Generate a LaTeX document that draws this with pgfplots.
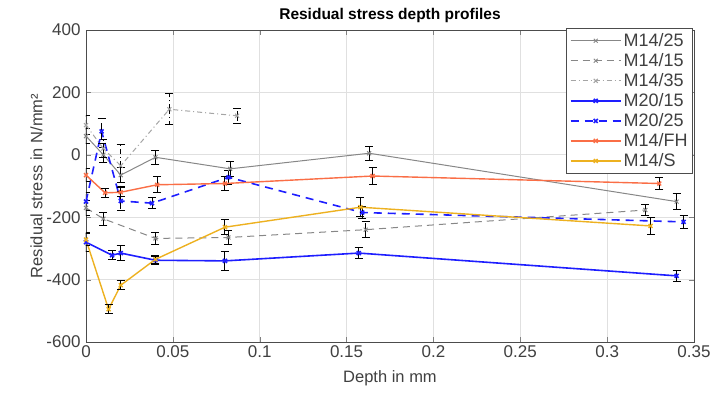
\documentclass[border=0pt]{standalone}
\usepackage{pgfplots}
\pgfplotsset{compat=1.18}
\usepackage{fontspec}
\setmainfont{Liberation Sans}
\definecolor{cgray}{RGB}{135,135,135}
\definecolor{cgrayl}{RGB}{165,165,165}
\definecolor{cblue}{RGB}{30,30,255}
\definecolor{corange}{RGB}{250,110,70}
\definecolor{cyellow}{RGB}{237,177,32}
\begin{document}
\begin{tikzpicture}
\path[use as bounding box] (-86pt,-52pt) rectangle (642pt,342pt);
\begin{axis}[
  at={(0,0)}, anchor=south west,
  scale only axis, width=608pt, height=312pt,
  xmin=0, xmax=0.35, ymin=-600, ymax=400,
  xtick={0,0.05,...,0.35}, ytick={-600,-400,...,400},
  xticklabels={0,0.05,0.1,0.15,0.2,0.25,0.3,0.35},
  /pgf/number format/assume math mode=true,
  ticklabel style={font=\fontsize{17}{17}\selectfont, text=black!75},
  yticklabel style={xshift=-2pt},
  tick align=inside, tick pos=both,
  major tick length=5pt,
  grid=major, grid style={black!12, line width=0.7pt},
  axis line style={black!70, line width=0.9pt},
  title={\bfseries Residual stress depth profiles},
  title style={font=\fontsize{15.5}{16}\selectfont, yshift=-2pt},
  xlabel={Depth in mm}, ylabel={Residual stress in N/mm²},
  label style={font=\fontsize{16.5}{17}\selectfont, text=black!75},
  xlabel style={yshift=-6pt},
  ylabel style={yshift=-3pt},
  legend style={at={(1,1)}, anchor=north east, xshift=-1pt, yshift=2pt,
    font=\fontsize{18}{19}\selectfont, draw=black!70, line width=0.9pt,
    text=black!75, row sep=1.5pt, inner sep=3pt},
  legend cell align=left,
  legend image code/.code={\draw[mark repeat=2,mark phase=2] plot coordinates {(0pt,0pt) (25pt,0pt) (50pt,0pt)};},
  every axis plot/.append style={mark=x, mark size=2.8pt,
    error bars/y dir=both, error bars/y explicit,
    error bars/error bar style={black, line width=1pt},
    error bars/error mark options={black, rotate=90, mark size=4pt, line width=1pt}},
]
\addplot[cgray, line width=1pt, mark options={solid}] coordinates {
 (0,60) +- (0,25) (0.01,0) +- (0,25) (0.02,-65) +- (0,25) (0.04,-8) +- (0,22)
 (0.083,-45) +- (0,25) (0.163,5) +- (0,22) (0.34,-150) +- (0,25)};
\addlegendentry{M14/25}
\addplot[cgray, line width=1pt, dash pattern=on 7pt off 5pt, mark options={solid}] coordinates {
 (0,-170) +- (0,25) (0.01,-205) +- (0,20) (0.04,-268) +- (0,18)
 (0.082,-265) +- (0,22) (0.161,-240) +- (0,25) (0.322,-177) +- (0,18)};
\addlegendentry{M14/15}
\addplot[cgrayl, line width=1pt, dash pattern=on 5pt off 3pt on 1pt off 3pt, mark options={solid}] coordinates {
 (0,95) +- (0,30) (0.01,20) +- (0,30) (0.02,-35) +- (0,67)
 (0.048,146) +- (0,50) (0.087,125) +- (0,24)};
\addlegendentry{M14/35}
\addplot[cblue, line width=1.6pt, mark options={solid}] coordinates {
 (0,-280) +- (0,30) (0.015,-322) +- (0,15) (0.02,-315) +- (0,25) (0.04,-338) +- (0,12)
 (0.08,-340) +- (0,30) (0.157,-315) +- (0,18) (0.34,-388) +- (0,18)};
\addlegendentry{M20/15}
\addplot[cblue, line width=1.6pt, dash pattern=on 8pt off 6pt, mark options={solid}] coordinates {
 (0,-150) +- (0,30) (0.009,75) +- (0,40) (0.02,-148) +- (0,30) (0.038,-155) +- (0,18)
 (0.082,-72) +- (0,22) (0.159,-185) +- (0,20) (0.344,-215) +- (0,22)};
\addlegendentry{M20/25}
\addplot[corange, line width=1.4pt, mark options={solid}] coordinates {
 (0,-65) +- (0,20) (0.011,-122) +- (0,15) (0.02,-120) +- (0,15) (0.041,-96) +- (0,25)
 (0.08,-92) +- (0,22) (0.165,-68) +- (0,28) (0.33,-92) +- (0,20)};
\addlegendentry{M14/FH}
\addplot[cyellow, line width=1.4pt, mark options={solid}] coordinates {
 (0,-272) +- (0,20) (0.013,-495) +- (0,15) (0.02,-418) +- (0,15) (0.04,-335) +- (0,12)
 (0.08,-232) +- (0,25) (0.158,-168) +- (0,30) (0.325,-228) +- (0,28)};
\addlegendentry{M14/S}
\end{axis}
\end{tikzpicture}
\end{document}
